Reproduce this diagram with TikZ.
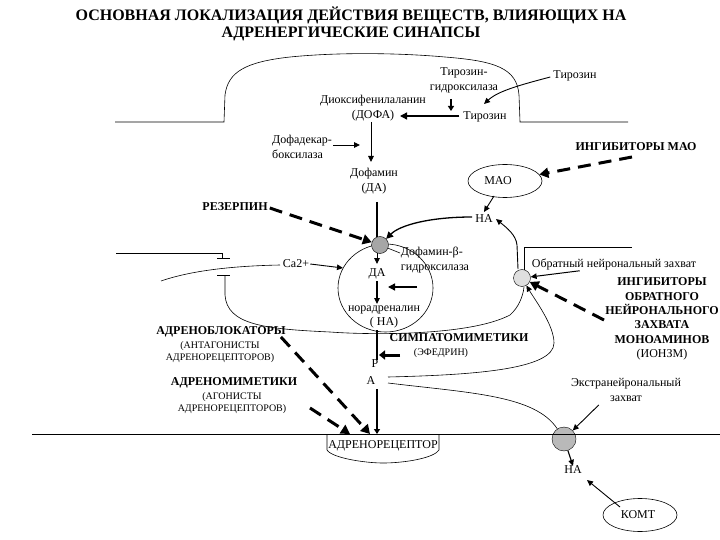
\documentclass[tikz,border=0pt]{standalone}
\usepackage{fontspec}
\setmainfont{Liberation Serif}
\usetikzlibrary{arrows.meta,shapes.geometric}
\tikzset{
 x=1pt,y=-1pt,
 lab/.style={inner sep=0pt,align=center,font=\fontsize{12}{15}\selectfont},
 blab/.style={inner sep=0pt,align=center,font=\fontsize{12}{14.4}\selectfont\bfseries},
 small lab/.style={inner sep=0pt,align=center,font=\fontsize{10}{12}\selectfont},
 thin line/.style={line width=.6pt},
 harrow/.style={line width=1.4pt,-{Triangle[length=7pt,width=7pt]}},
 sarrow/.style={line width=.9pt,-{Triangle[length=6pt,width=5.5pt]}},
 dasharrow/.style={line width=3pt,dash pattern=on 13pt off 8pt,-{Triangle[length=9pt,width=10pt]}},
 gball/.style={circle,draw,fill=#1,inner sep=0pt},
 enz/.style={ellipse,draw,line width=.6pt,inner sep=0pt},
}
\begin{document}
\begin{tikzpicture}
\useasboundingbox (0,0) rectangle (720,540);
\node[inner sep=0pt,align=center,font=\fontsize{16}{17}\selectfont\bfseries] (title) at (351,24) {ОСНОВНАЯ ЛОКАЛИЗАЦИЯ ДЕЙСТВИЯ ВЕЩЕСТВ, ВЛИЯЮЩИХ НА\\АДРЕНЕРГИЧЕСКИЕ СИНАПСЫ};
% terminal membrane
\draw[thin line] (115,122) -- (224,122) -- (225,95) .. controls (228,72) and (245,62) .. (290,57) .. controls (340,52) and (400,53) .. (445,57) .. controls (495,61) and (517,68) .. (519,95) -- (520,122) -- (628,122);
\draw[thin line] (116,253) -- (222,253) -- (222,258);
\draw[line width=1pt] (217,258) -- (230,258);
\draw[line width=1pt] (217,275) -- (230,275);
\coordinate (psyn) at (225,275);
\coordinate (axon) at (161,281);
\coordinate (vesL) at (343,268);
\draw[thin line] (axon) .. controls (190,271) and (230,266) .. (280,265);
\draw[thin line] (psyn) -- (225,295) .. controls (227,325) and (265,329) .. (330,332) .. controls (370,335) and (470,336) .. (510,315) .. controls (518,308) and (523,297) .. (524,287);
% vesicle
\node[ellipse,draw,line width=.6pt,minimum width=95pt,minimum height=88pt,inner sep=0pt] (ves) at (385.5,288) {};
% balls
\node[gball=gray!70,minimum size=17pt] (g1) at (380,245) {};
\node[gball=gray!25,minimum size=17pt] (g2) at (522,278) {};
\node[gball=gray!55,minimum size=24pt] (g3) at (564,439) {};
% texts
\node[lab] (hyd) at (464,80) {Тирозин-\\гидроксилаза};
\node[lab] (tyrout) at (575,76) {Тирозин};
\node[lab] (dofa) at (373,108) {Диоксифенилаланин\\(ДОФА)};
\node[lab] (tyr) at (485,117) {Тирозин};
\node[lab,align=left] (dec) at (302,147) {Дофадекар-\\боксилаза};
\node[lab] (da1) at (374,181) {Дофамин\\(ДА)};
\node[blab] (mao1) at (636,147) {ИНГИБИТОРЫ МАО};
\node[enz,minimum width=74pt,minimum height=33pt] (mao) at (505,181) {};
\node[lab] (maot) at (498,181) {МАО};
\node[lab] (na1) at (484,219) {НА};
\node[blab] (rez) at (235,207) {РЕЗЕРПИН};
\node[lab] (ca) at (296,264) {Ca2+};
\node[lab] (da2) at (377,274) {ДА};
\node[lab,align=left] (dbh) at (435,260) {Дофамин-β-\\гидроксилаза};
\node[lab,font=\fontsize{12}{13.5}\selectfont] (nor) at (384,317) {норадреналин\\( НА)};
\node[lab] (uptake) at (614,264) {Обратный нейрональный захват};
\node[blab] (ionzm) at (662,319) {ИНГИБИТОРЫ\\ОБРАТНОГО\\НЕЙРОНАЛЬНОГО\\ЗАХВАТА\\МОНОАМИНОВ\\{\mdseries (ИОНЗМ)}};
\node[blab] (block) at (221,332) {АДРЕНОБЛОКАТОРЫ};
\node[small lab] (ant) at (220,352.5) {(АНТАГОНИСТЫ\\АДРЕНОРЕЦЕПТОРОВ)};
\node[blab] (sym) at (459,338) {СИМПАТОМИМЕТИКИ};
\node[small lab] (eph) at (441,353) {(ЭФЕДРИН)};
\node[lab] (p) at (375,364) {Р};
\node[lab] (a) at (371,381) {А};
\node[blab] (mim) at (234,383) {АДРЕНОМИМЕТИКИ};
\node[small lab] (ag) at (232,403) {(АГОНИСТЫ\\АДРЕНОРЕЦЕПТОРОВ)};
\node[lab] (extra) at (626,390) {Экстранейрональный\\захват};
\node[lab] (na2) at (573,470) {НА};
\node[enz,minimum width=74pt,minimum height=33pt] (komt) at (640,515) {};
\node[lab] (komtt) at (638,515) {КОМТ};
% base line and receptor
\draw[thin line] (32,434) -- (720,434);
\node[lab] (rec) at (383,446) {АДРЕНОРЕЦЕПТОР};
\draw[thin line] (327,434) -- (327,450) .. controls (332,458) and (365,463) .. (383,463) .. controls (405,463) and (434,458) .. (439,450) -- (439,434);
\coordinate (rectop) at (377,434);
\coordinate (rectopA) at (350,434);
\coordinate (rectopB) at (370,434);
% arrows
\coordinate (hydb) at (451,99);
\coordinate (tyrin) at (484,104);
\coordinate (maodash) at (632,157);
\draw[line width=1.3pt,-{Triangle[length=5pt,width=6pt]}] (hydb) -- (451,111);
\draw[sarrow] (tyrout.west) ++(-3,1) .. controls (520,85) and (498,91) .. (tyrin);
\draw[harrow] (tyr.west) ++(-4,-1) -- (400,116);
\draw[sarrow] (371,122) -- (371,162);
\draw[sarrow] (dec.east) ++(1,-2) -- (360,145);
\draw[line width=1.4pt] (377,202) -- (377,237);
\draw[sarrow] (377,253) -- (377,264);
\draw[sarrow,line width=1.2pt] (377,281) -- (377,304);
\draw[harrow] (417,287) -- (388,287);
\draw[line width=1.4pt] (377,330) -- (377,360);
\draw[line width=1.4pt,-{Triangle[length=5pt,width=6pt]}] (377,389) -- (rectop);
\draw[sarrow] (mao) ++(-11,15) -- (484,212);
\draw[line width=1.3pt,-{Triangle[length=7pt,width=7pt]}] (na1.west) ++(-3,-2) .. controls (430,217) and (400,225) .. (g1);
\draw[sarrow] (g2) ++(-4,-9) -- (517,245) .. controls (516,235) and (507,228) .. (496,219);
\draw[thin line] (g2) ++(2,-8) -- (524,247) -- (632,247);
\draw[thin line] (g1) -- (400,253);
\draw[sarrow] (ca.east) ++(1,0) -- (vesL);
\draw[sarrow,line width=1pt] (uptake.south west) ++(48,1) -- (g2);
\draw[sarrow,line width=.6pt] (388,377) .. controls (470,375) and (554,370) .. (554,343) .. controls (554,325) and (535,300) .. (g2);
\draw[thin line] (388,383) .. controls (470,393) and (535,395) .. (g3);
\draw[sarrow] (extra.south west) ++(28,3) -- (g3);
\draw[sarrow,line width=1.1pt] (g3) -- (na2.north);
\draw[sarrow] (komt) ++(-20,-8) -- (587,480);
% dashed
\draw[dasharrow] (rez.east) ++(2,1) -- (g1);
\draw[dasharrow] (maodash) -- (mao);
\draw[dasharrow] (604,320) -- (g2);
\draw[dasharrow] (block.east) ++(-5,5) -- (rectopB);
\draw[dasharrow] (310,408) -- (rectopA);
\draw[line width=3pt,-{Triangle[length=6pt,width=9pt]}] (400,355) -- (379,355);
\end{tikzpicture}
\end{document}
